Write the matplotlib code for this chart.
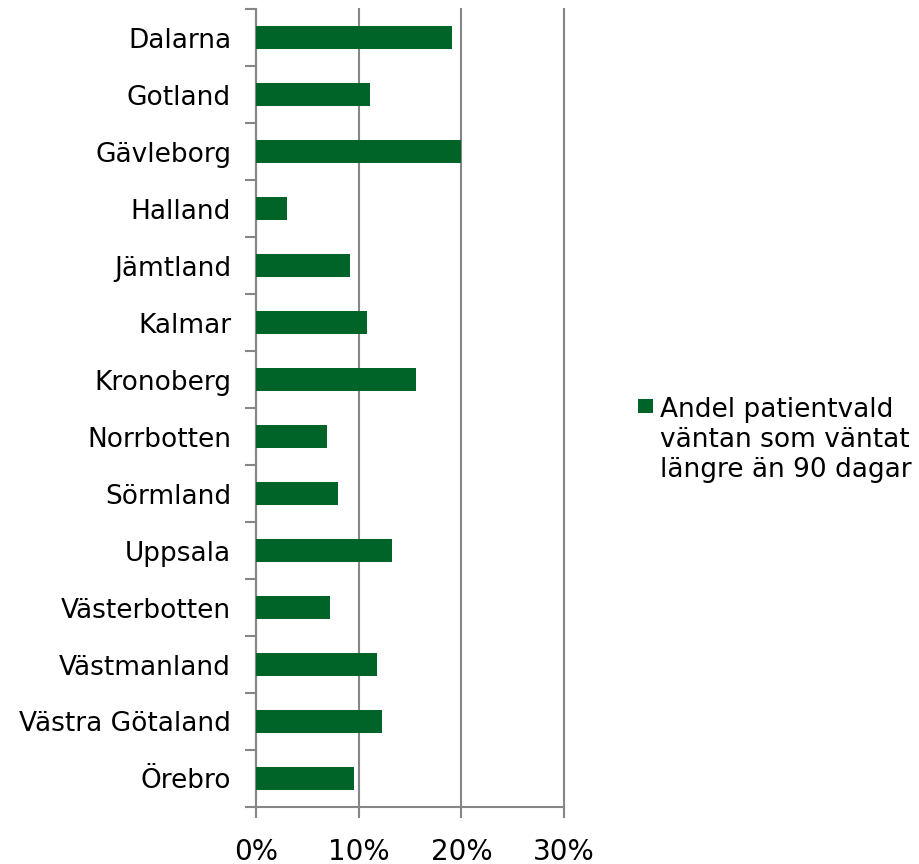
import numpy as np
import matplotlib.pyplot as plt
from matplotlib.patches import Rectangle

regions = ['Dalarna', 'Gotland', 'Gävleborg', 'Halland', 'Jämtland', 'Kalmar',
           'Kronoberg', 'Norrbotten', 'Sörmland', 'Uppsala', 'Västerbotten',
           'Västmanland', 'Västra Götaland', 'Örebro']
share = [19.1, 11.1, 20.0, 3.0, 9.2, 10.8, 15.6, 6.9, 8.0, 13.2, 7.2, 11.8, 12.3, 9.5]
series_name = 'Andel patientvald\nväntan som väntat\nlängre än 90 dagar'
xticks = [0, 10, 20, 30]

green = '#006428'
grey = '#868686'

plt.rcParams['font.family'] = ['DejaVu Sans']
fig = plt.figure(figsize=(9.19, 8.64), dpi=100)
ax = fig.add_axes([0.2786, 0.066, 0.3351, 0.9234])

y = np.arange(len(regions))
ax.barh(y, share, height=0.4, color=green, zorder=3)

ax.set_xlim(0, 30)
ax.set_ylim(len(regions) - 0.5, -0.5)
ax.set_xticks(xticks)
ax.set_xticklabels([f'{v}%' for v in xticks], fontsize=20)
ax.set_yticks(y)
ax.set_yticklabels(regions, fontsize=19)
ax.tick_params(axis='y', length=0, pad=18)
ax.set_yticks(np.arange(len(regions) + 1) - 0.5, minor=True)
ax.tick_params(axis='y', which='minor', length=8, width=1.5, color=grey)
ax.tick_params(axis='x', length=8, width=1.5, color=grey, pad=14)

ax.grid(axis='x', color=grey, linewidth=1.5, zorder=0)
for gl in ax.get_xgridlines():
    gl.set_clip_on(False)
for s in ['top', 'right']:
    ax.spines[s].set_visible(False)
for s in ['left', 'bottom']:
    ax.spines[s].set_color(grey)
    ax.spines[s].set_linewidth(1.5)

# legend drawn by hand: square aligned with the first text line
fig.patches.append(Rectangle((638 / 919, 1 - 413 / 864), 15 / 919, 14 / 864,
                             transform=fig.transFigure, facecolor=green,
                             edgecolor='none'))
fig.text(660 / 919, 1 - 440 / 864, series_name, fontsize=19, va='center',
         ha='left', linespacing=1.22)

fig.savefig('out.png', dpi=100)
